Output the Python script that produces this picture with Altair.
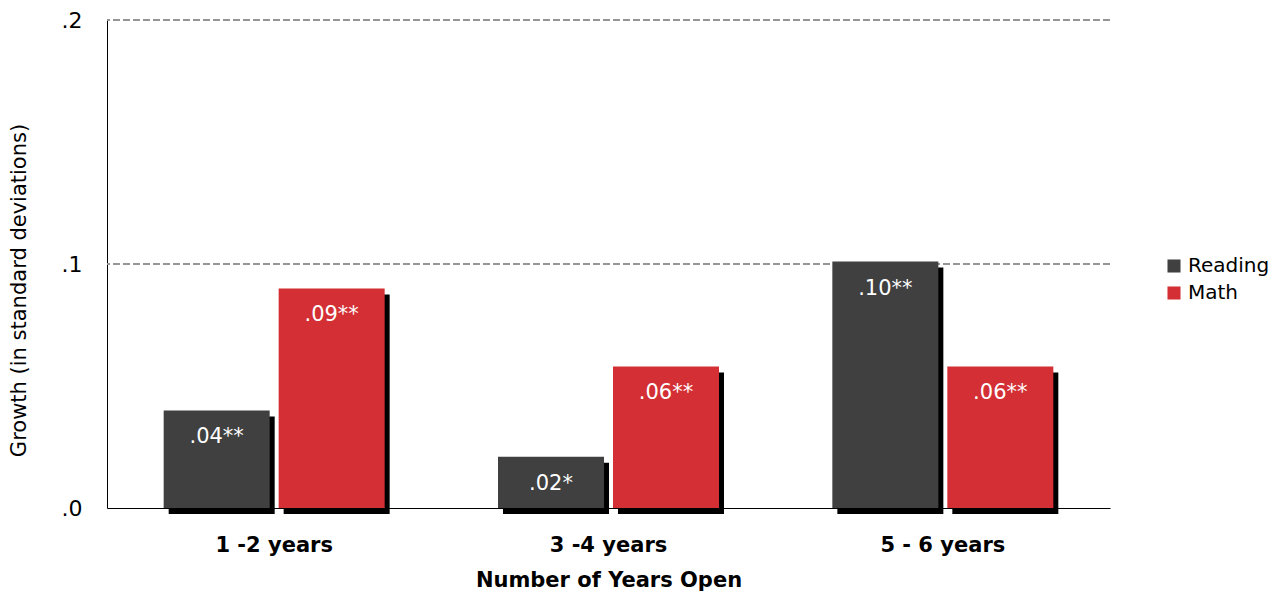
import altair as alt
import pandas as pd

groups = ["1 -2 years", "3 -4 years", "5 - 6 years"]
subjects = ["Reading", "Math"]
reading = [0.040, 0.021, 0.101]
math = [0.090, 0.058, 0.058]
reading_labels = [".04**", ".02*", ".10**"]
math_labels = [".09**", ".06**", ".06**"]
colors = ["#404040", "#D32F34"]
grid_values = [0.1, 0.2]
y_ticks = [0.0, 0.1, 0.2]

rows = []
for g, r, m, rl, ml in zip(groups, reading, math, reading_labels, math_labels):
    rows.append(dict(group=g, subject="Reading", value=r, label=rl))
    rows.append(dict(group=g, subject="Math", value=m, label=ml))
df = pd.DataFrame(rows)
grid_df = pd.DataFrame({"v": grid_values})

FONT = "DejaVu Sans"
W, H = 1003, 488
PI_X = 0.339
BAND = W / 3 * (1 - PI_X)
SHADOW_DX = 5

x = alt.X(
    "group:N",
    sort=groups,
    scale=alt.Scale(paddingInner=PI_X, paddingOuter=PI_X / 2),
    axis=alt.Axis(
        title="Number of Years Open",
        labelAngle=0,
        ticks=False,
        domainColor="black",
        domainWidth=1,
        labelFont=FONT,
        labelFontSize=21,
        labelFontWeight="bold",
        labelColor="black",
        labelPadding=26,
        titleFont=FONT,
        titleFontSize=21,
        titleFontWeight="bold",
        titleColor="black",
        titlePadding=14,
        grid=False,
    ),
)
xo = alt.XOffset("subject:N", sort=subjects, scale=alt.Scale(paddingInner=0.078, paddingOuter=0))
xo_shadow = alt.XOffset(
    "subject:N",
    sort=subjects,
    scale=alt.Scale(paddingInner=0.078, paddingOuter=0, range=[SHADOW_DX, BAND + SHADOW_DX]),
)
y = alt.Y(
    "value:Q",
    scale=alt.Scale(domain=[0, 0.2], nice=False),
    axis=alt.Axis(
        title="Growth (in standard deviations)",
        values=y_ticks,
        labelExpr="replace(format(datum.value, '.1f'), '0.', '.')",
        ticks=False,
        grid=False,
        domainColor="black",
        domainWidth=1,
        labelFont=FONT,
        labelFontSize=22,
        labelColor="black",
        labelPadding=25,
        titleFont=FONT,
        titleFontSize=21,
        titleFontWeight="normal",
        titleColor="black",
        titlePadding=32,
        titleY=270,
    ),
)

base = alt.Chart(df)

grid = alt.Chart(grid_df).mark_rule(color="#959595", strokeDash=[7, 3], strokeWidth=2).encode(
    y=alt.Y("v:Q", scale=alt.Scale(domain=[0, 0.2], nice=False))
)

shadow = base.mark_bar(color="black", yOffset=6, y2Offset=4).encode(
    x=x, xOffset=xo_shadow, y=y
)

bars = base.mark_bar().encode(
    x=x,
    xOffset=xo,
    y=y,
    color=alt.Color(
        "subject:N",
        sort=subjects,
        scale=alt.Scale(domain=subjects, range=colors),
        legend=alt.Legend(
            title=None,
            orient="none",
            legendX=1057,
            legendY=236,
            symbolType="square",
            symbolSize=170,
            symbolStrokeWidth=0,
            labelFont=FONT,
            labelFontSize=20,
            labelColor="black",
            rowPadding=7,
        ),
    ),
)

text = base.mark_text(color="white", font=FONT, fontSize=21, dy=27, baseline="middle").encode(
    x=x, xOffset=xo, y=y, text="label:N"
)

front = alt.layer(bars, text)

chart = (
    alt.layer(grid, shadow, front)
    .resolve_scale(xOffset="independent")
    .properties(
        width=W,
        height=H,
        autosize="none",
        padding={"left": 99, "top": 12, "right": 166, "bottom": 83},
    )
    .configure_view(stroke=None)
)

chart.save("out.html", embed_options={"renderer": "svg", "actions": False})
